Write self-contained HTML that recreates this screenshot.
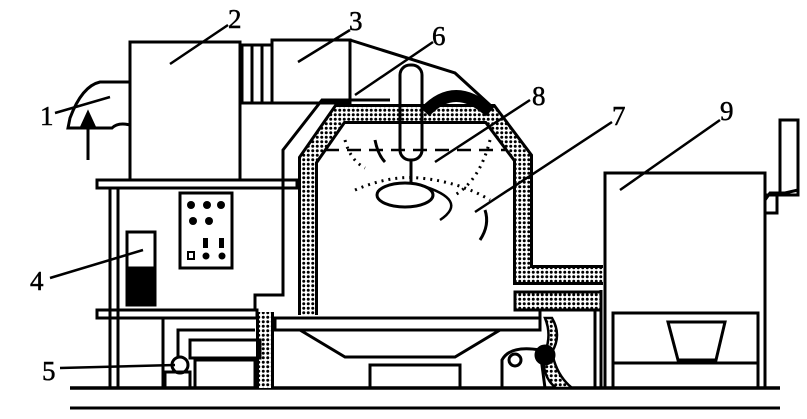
<!DOCTYPE html>
<html><head><meta charset="utf-8"><style>
html,body{margin:0;padding:0;background:#fff;}
svg{display:block}
text{font-family:"Liberation Serif",serif;font-size:27px;fill:#000;stroke:#000;stroke-width:0.5}
</style></head><body>
<svg width="807" height="419" viewBox="0 0 807 419" xmlns="http://www.w3.org/2000/svg">
<defs>
<pattern id="dots" width="4.5" height="4.5" patternUnits="userSpaceOnUse">
<rect width="4.5" height="4.5" fill="#fff"/><circle cx="2.25" cy="2.25" r="1.5" fill="#000"/>
</pattern>
</defs>
<g fill="none" stroke="#000" stroke-width="3">
<line x1="70" y1="388" x2="780" y2="388" stroke-width="3.5"/>
<line x1="70" y1="408" x2="780" y2="408" stroke-width="3"/>
<rect x="130" y="42" width="110" height="138"/>
<rect x="242" y="45" width="30" height="58"/>
<line x1="252" y1="45" x2="252" y2="103"/><line x1="262" y1="45" x2="262" y2="103"/>
<rect x="272" y="40" width="78" height="63"/>
<polyline points="350,40 455,73 490,105"/>
<path d="M130,82 L100,82 Q82,86 70,118 L68,128 L112,128 Q118,122 130,125"/>
<line x1="88" y1="160" x2="88" y2="120"/>
<path d="M82,126 L88,113 L94,126 Z" fill="#000"/>
<rect x="97" y="180" width="200" height="8"/>
<rect x="97" y="310" width="160" height="8"/>
<line x1="110" y1="188" x2="110" y2="388"/><line x1="118" y1="188" x2="118" y2="388"/>
<line x1="163" y1="318" x2="163" y2="388"/>
<polyline points="283,188 283,150 322,100 390,100"/>
<polyline points="283,180 283,295 255,295 255,310"/>
<rect x="180" y="193" width="52" height="75"/>
<rect x="127" y="232" width="28" height="73"/>
<rect x="127" y="268" width="28" height="37" fill="#000"/>
<path d="M308,315 L308,160 L340,114 L490,114 L523,158 L523,275 L603,275" stroke-width="20" stroke-linejoin="miter"/>
<path d="M308,315 L308,160 L340,114 L490,114 L523,158 L523,275 L603,275" stroke="url(#dots)" stroke-width="14" stroke-linejoin="miter"/>
<path d="M265,312 L265,388" stroke-width="18"/>
<path d="M265,312 L265,388" stroke="url(#dots)" stroke-width="12"/>
<path d="M425,112 Q455,80 490,112" stroke-width="12"/>
<rect x="515" y="292" width="86" height="18" fill="url(#dots)"/>
<polyline points="540,310 540,318"/>
<polyline points="560,310 595,310 595,388"/>
<line x1="601" y1="290" x2="601" y2="388"/>
<path d="M552,318 Q562,335 552,352 Q556,375 572,388 L556,388 Q540,375 545,352 Q552,335 545,318 Z" fill="url(#dots)" stroke-width="2.5"/>
<rect x="275" y="318" width="265" height="12"/>
<path d="M300,330 L500,330 L455,357 L345,357 Z"/>
<rect x="370" y="365" width="90" height="23"/>
<path d="M502,388 L502,360 Q510,345 540,350 L545,388"/>
<circle cx="515" cy="360" r="6"/>
<circle cx="545" cy="355" r="9" fill="#000"/>
<rect x="190" y="340" width="70" height="18"/>
<circle cx="180" cy="365" r="8"/>
<rect x="165" y="372" width="25" height="16"/>
<rect x="195" y="360" width="60" height="28"/>
<polyline points="178,357 178,330 255,330"/>
<rect x="605" y="173" width="160" height="215"/>
<rect x="613" y="313" width="145" height="75"/>
<line x1="613" y1="363" x2="758" y2="363"/>
<path d="M668,322 L725,322 L716,360 L678,360 Z"/>
<rect x="780" y="120" width="18" height="75"/>
<polyline points="765,200 770,193 785,193 798,190"/>
<rect x="765" y="195" width="12" height="18"/>
<rect x="400" y="65" width="22" height="95" rx="10"/>
<line x1="411" y1="160" x2="411" y2="182"/>
<ellipse cx="405" cy="195" rx="28" ry="12"/>
<line x1="325" y1="150" x2="505" y2="150" stroke-dasharray="14,8" stroke-width="2.5"/>
<path d="M345,140 Q350,160 365,168" stroke-dasharray="2,5" stroke-width="3"/>
<path d="M355,190 Q390,175 420,178 Q460,182 490,200" stroke-dasharray="2,5" stroke-width="3"/>
<path d="M490,140 Q480,180 455,195" stroke-dasharray="2,5" stroke-width="3"/>
<path d="M420,185 Q470,200 440,220" stroke-width="2.5"/>
<path d="M485,210 Q490,225 480,240" stroke-width="3"/>
<path d="M375,140 Q378,155 385,162" stroke-width="3"/>
<g stroke-width="2.5">
<line x1="55" y1="113" x2="110" y2="97"/>
<line x1="228" y1="25" x2="170" y2="64"/>
<line x1="350" y1="30" x2="298" y2="62"/>
<line x1="433" y1="42" x2="355" y2="95"/>
<line x1="530" y1="100" x2="435" y2="162"/>
<line x1="612" y1="122" x2="475" y2="212"/>
<line x1="720" y1="120" x2="620" y2="190"/>
<line x1="50" y1="278" x2="143" y2="250"/>
<line x1="60" y1="368" x2="175" y2="365"/>
</g>
</g>
<g fill="#000">
<circle cx="191" cy="205" r="4"/><circle cx="207" cy="205" r="4"/><circle cx="221" cy="205" r="4"/>
<circle cx="193" cy="221" r="4"/><circle cx="209" cy="221" r="4"/>
<rect x="203" y="238" width="5" height="10"/><rect x="219" y="238" width="5" height="10"/>
<rect x="188" y="252" width="6" height="7" fill="none" stroke="#000" stroke-width="2"/>
<circle cx="206" cy="256" r="3.5"/><circle cx="222" cy="256" r="3.5"/>
</g>
<text x="40" y="125">1</text>
<text x="228" y="28">2</text>
<text x="349" y="30">3</text>
<text x="432" y="45">6</text>
<text x="532" y="105">8</text>
<text x="612" y="125">7</text>
<text x="720" y="120">9</text>
<text x="30" y="290">4</text>
<text x="42" y="380">5</text>
</svg>
</body></html>
